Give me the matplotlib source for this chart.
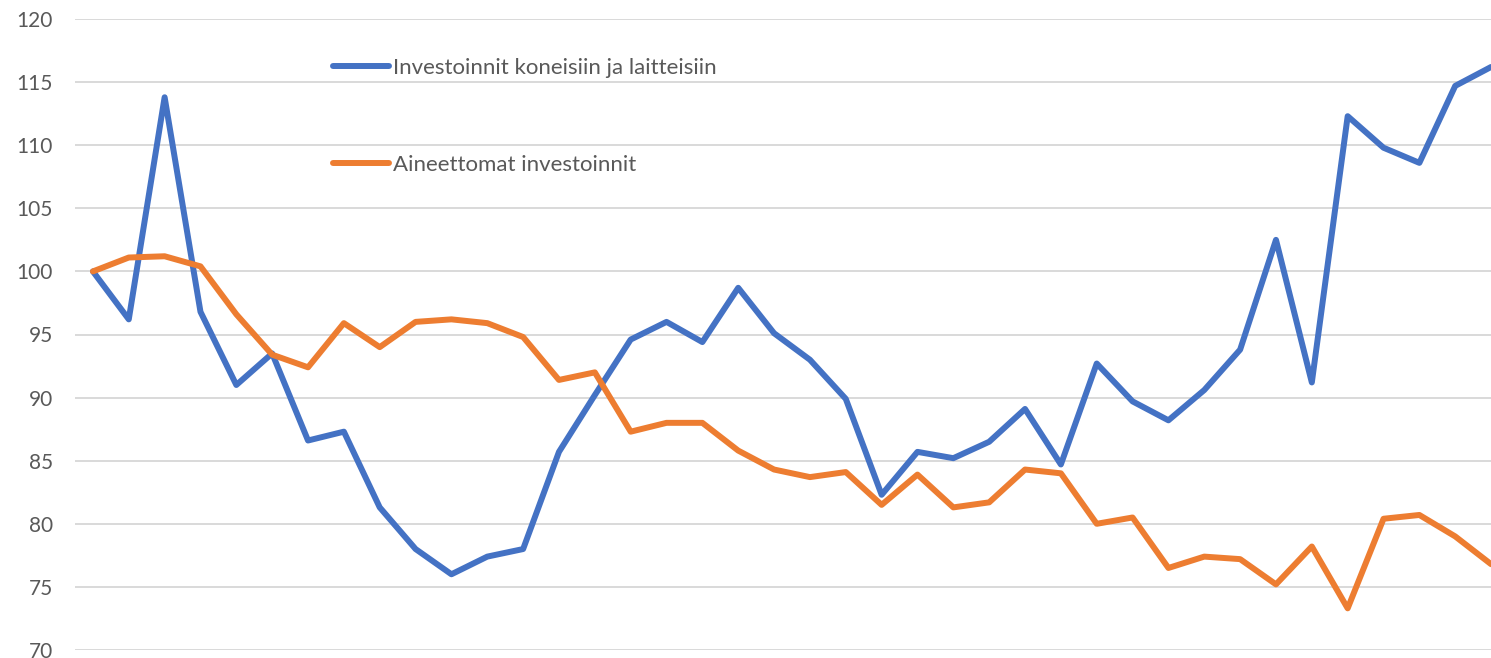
import numpy as np
import matplotlib
matplotlib.use("Agg")
import matplotlib.pyplot as plt

# indeksi, lähtötaso = 100
koneet = [100.0, 96.2, 113.8, 96.8, 91.0, 93.5, 86.6, 87.3, 81.3, 78.0,
          76.0, 77.4, 78.0, 85.7, 90.2, 94.6, 96.0, 94.4, 98.7, 95.1,
          93.0, 89.9, 82.3, 85.7, 85.2, 86.5, 89.1, 84.7, 92.7, 89.7,
          88.2, 90.6, 93.8, 102.5, 91.2, 112.3, 109.8, 108.6, 114.7, 116.2]
aineettomat = [100.0, 101.1, 101.2, 100.4, 96.6, 93.4, 92.4, 95.9, 94.0, 96.0,
               96.2, 95.9, 94.8, 91.4, 92.0, 87.3, 88.0, 88.0, 85.8, 84.3,
               83.7, 84.1, 81.5, 83.9, 81.3, 81.7, 84.3, 84.0, 80.0, 80.5,
               76.5, 77.4, 77.2, 75.2, 78.2, 73.3, 80.4, 80.7, 79.0, 76.8]
nimet = ["Investoinnit koneisiin ja laitteisiin", "Aineettomat investoinnit"]

x = np.arange(len(koneet))
harmaa = "#595959"

fig = plt.figure(figsize=(14.91, 6.58), dpi=100)
W, H = 1491, 658
ax = fig.add_axes([75 / W, (H - 650) / H, (1509 - 75) / W, 631 / H])

ax.plot(x, koneet, color="#4472C4", lw=4.3, solid_joinstyle="round",
        solid_capstyle="round", label=nimet[0])
ax.plot(x, aineettomat, color="#ED7D31", lw=4.3, solid_joinstyle="round",
        solid_capstyle="round", label=nimet[1])

ax.set_xlim(-0.5, 39.5)
ax.set_ylim(70, 120)
ax.set_yticks(np.arange(70, 121, 5))
ax.set_xticks([])
ax.grid(axis="y", color="#d9d9d9", lw=1.4)
ax.set_axisbelow(True)
for s in ax.spines.values():
    s.set_visible(False)
ax.tick_params(axis="y", length=0, pad=16, labelsize=15, labelcolor=harmaa)
for t in ax.get_yticklabels():
    t.set_fontfamily("Lato")

leg = ax.legend(loc="upper left", bbox_to_anchor=(333 / W, 1 - 58 / H),
                bbox_transform=fig.transFigure, frameon=False,
                prop={"family": "Lato", "size": 16},
                handlelength=2.5, handletextpad=0.2, labelspacing=3.45,
                borderpad=0, borderaxespad=0)
for t in leg.get_texts():
    t.set_color(harmaa)

fig.savefig("out.png", dpi=100)
